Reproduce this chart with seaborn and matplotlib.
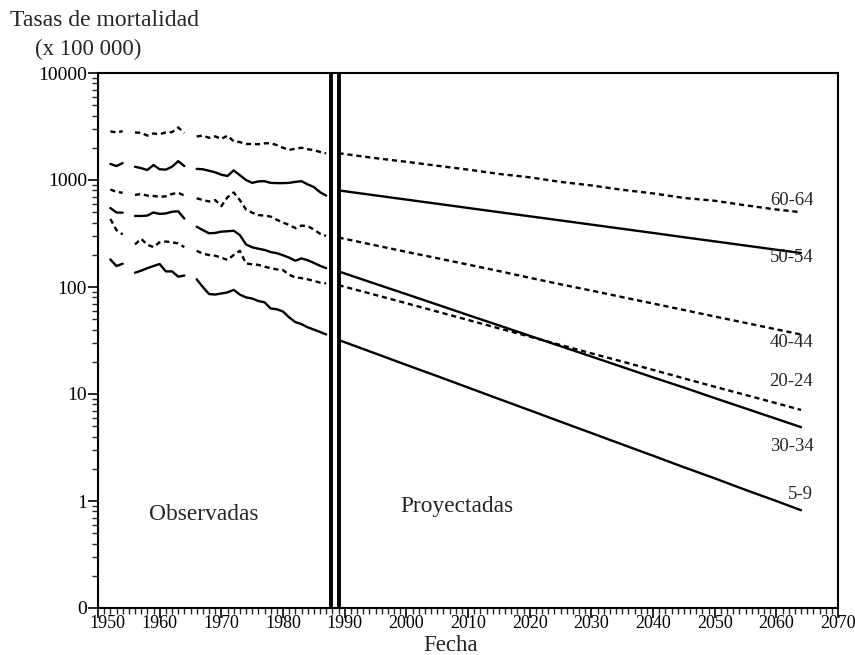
import numpy as np
import pandas as pd
import matplotlib
matplotlib.use("Agg")
import matplotlib.pyplot as plt
import matplotlib.ticker as mticker
import matplotlib.transforms as mtrans
import seaborn as sns

# ── data ────────────────────────────────────────────────────
groups = ["60-64", "50-54", "40-44", "30-34", "20-24", "5-9"]
line_kind = {"60-64": "dashed", "50-54": "solid", "40-44": "dashed",
             "30-34": "solid", "20-24": "dashed", "5-9": "solid"}

years_seg1 = [1952, 1953, 1954]
years_seg2 = [1956, 1957, 1958, 1959, 1960, 1961, 1962, 1963, 1964]
years_seg3 = list(range(1966, 1988))
years_proj = [1989, 1995, 2000, 2005, 2010, 2015, 2020, 2025, 2030,
              2035, 2040, 2045, 2050, 2055, 2060, 2064]

obs_6064 = [2850, 2780, 2860,
            2780, 2760, 2600, 2720, 2680, 2780, 2800, 3100, 2750,
            2550, 2600, 2480, 2560, 2420, 2600, 2300, 2260, 2170, 2170, 2160,
            2200, 2210, 2120, 2000, 1910, 1960, 2000, 1940, 1900, 1830, 1770]
obs_5054 = [1413, 1350, 1440,
            1330, 1290, 1240, 1380, 1260, 1250, 1330, 1500, 1350,
            1270, 1260, 1220, 1180, 1120, 1090, 1230, 1110, 1000, 940, 970,
            975, 940, 935, 935, 940, 960, 975, 910, 860, 770, 715]
obs_4044 = [815, 775, 760,
            725, 740, 715, 710, 695, 705, 740, 760, 715,
            675, 650, 630, 650, 570, 690, 765, 650, 530, 495, 470,
            465, 455, 425, 400, 380, 355, 375, 370, 345, 315, 300]
obs_3034 = [547, 497, 495,
            461, 461, 465, 497, 482, 487, 505, 510, 436,
            366, 340, 318, 320, 329, 332, 336, 306, 250, 235, 228,
            222, 212, 207, 198, 188, 176, 185, 178, 168, 158, 150]
obs_2024 = [432, 340, 310,
            250, 282, 248, 236, 262, 266, 262, 255, 236,
            218, 205, 199, 196, 188, 179, 199, 218, 166, 163, 161,
            155, 150, 146, 144, 130, 123, 121, 118, 114, 110, 108]
obs_59 = [181, 157, 165,
          136, 142, 150, 157, 164, 140, 140, 125, 128,
          118, 100, 86, 85, 87, 89, 94, 85, 80, 78, 74,
          72, 63, 62, 59, 52, 47, 45, 42, 40, 38, 36]

proj_6064 = [1780, 1600, 1480, 1360, 1250, 1140, 1060, 960, 890, 810, 750, 680, 640, 580, 530, 500]
proj_5054 = [800, 718, 656, 600, 548, 501, 458, 419, 383, 350, 320, 292, 267, 244, 223, 208]
proj_4044 = [290, 245, 213, 186, 162, 141, 122, 106, 92.6, 80.5, 70.1, 61, 53, 46.2, 40.2, 36]
proj_3034 = [140, 107, 85.7, 68.5, 54.7, 43.8, 35.0, 28.0, 22.4, 17.9, 14.3, 11.5, 9.16, 7.33, 5.86, 4.9]
proj_2024 = [104, 84.3, 70.5, 58.9, 49.2, 41.1, 34.4, 28.7, 24.0, 20.1, 16.8, 14.0, 11.7, 9.8, 8.2, 7.1]
proj_59 = [32, 23.9, 18.7, 14.7, 11.5, 8.99, 7.05, 5.51, 4.32, 3.38, 2.65, 2.07, 1.63, 1.27, 1.0, 0.82]

observed = {"60-64": obs_6064, "50-54": obs_5054, "40-44": obs_4044,
            "30-34": obs_3034, "20-24": obs_2024, "5-9": obs_59}
projected = {"60-64": proj_6064, "50-54": proj_5054, "40-44": proj_4044,
             "30-34": proj_3034, "20-24": proj_2024, "5-9": proj_59}

# label anchor values (right end of each curve)
label_vals = {"60-64": 650, "50-54": 187, "40-44": 30,
              "20-24": 13.2, "30-34": 3.2, "5-9": 1.16}

# ── long table: one unit per drawn segment ──────────────────
rows = []
for g in groups:
    vals = observed[g]
    n1, n2 = len(years_seg1), len(years_seg2)
    pieces = [(years_seg1, vals[:n1], "a"),
              (years_seg2, vals[n1:n1 + n2], "b"),
              (years_seg3, vals[n1 + n2:], "c"),
              (years_proj, projected[g], "p")]
    for yrs, vs, tag in pieces:
        for yr, v in zip(yrs, vs):
            rows.append({"year": yr, "rate": v, "group": g, "seg": g + tag,
                         "kind": line_kind[g]})
df = pd.DataFrame(rows)

# ── plot ────────────────────────────────────────────────────
sns.set_style("ticks")
plt.rcParams["font.family"] = ["Liberation Serif", "DejaVu Serif"]

fig = plt.figure(figsize=(8.55, 6.55), dpi=100)
ax = fig.add_axes([98 / 855, 47 / 655, 740 / 855, 535 / 655])

sns.lineplot(data=df, x="year", y="rate", style="kind", units="seg",
             estimator=None, color="black", linewidth=1.7, legend=False,
             dashes={"solid": "", "dashed": (2.2, 1.6)}, ax=ax)

# double vertical separator between observed and projected
for xv in [1987.8, 1989.1]:
    ax.axvline(xv, color="black", linewidth=2.8)

ax.set_yscale("log")
ax.set_ylim(0.1, 10000)
ax.set_xlim(1950, 2070)
ax.yaxis.set_major_locator(mticker.FixedLocator([0.1, 1, 10, 100, 1000, 10000]))
ax.yaxis.set_major_formatter(mticker.FixedFormatter(["0", "1", "10", "100", "1000", "10000"]))
ax.yaxis.set_minor_locator(mticker.LogLocator(base=10, subs=np.arange(2, 10), numticks=20))
ax.yaxis.set_minor_formatter(mticker.NullFormatter())
ax.xaxis.set_major_locator(mticker.FixedLocator(list(range(1950, 2071, 10))))
ax.xaxis.set_minor_locator(mticker.MultipleLocator(1))

ax.tick_params(axis="both", which="major", direction="out", length=7, width=1.2,
               color="black", labelcolor="black")
ax.tick_params(axis="both", which="minor", direction="out", length=4.5, width=1.0)
ax.tick_params(axis="y", labelsize=14, pad=1)
ax.tick_params(axis="x", labelsize=13, pad=-2)
for s in ax.spines.values():
    s.set_visible(True)
    s.set_linewidth(1.5)
    s.set_color("black")

ax.set_ylabel("")
ax.set_xlabel("Fecha", fontsize=16.5)
ax.xaxis.set_label_coords(0.476, -0.05)

for g in groups:
    ax.text(2066, label_vals[g], g, fontsize=13.5, ha="right", va="center")

ax.text(1958.3, 0.74, "Observadas", fontsize=16.8, ha="left", va="center")
ax.text(1999, 0.88, "Proyectadas", fontsize=16.8, ha="left", va="center")

fig.text(10 / 855, 1 - 20 / 655, "Tasas de mortalidad", fontsize=17,
         ha="left", va="center")
fig.text(35 / 855, 1 - 49 / 655, "(x 100 000)", fontsize=16.5,
         ha="left", va="center")

# nudge the "1950" label right so it clears the "0" on the y axis
fig.canvas.draw()
for tick in ax.xaxis.get_major_ticks():
    if tick.label1.get_text() == "1950":
        tick.label1.set_transform(tick.label1.get_transform() +
                                  mtrans.ScaledTranslation(9 / 100, 0, fig.dpi_scale_trans))

fig.savefig("out.png", dpi=100, facecolor="white")
